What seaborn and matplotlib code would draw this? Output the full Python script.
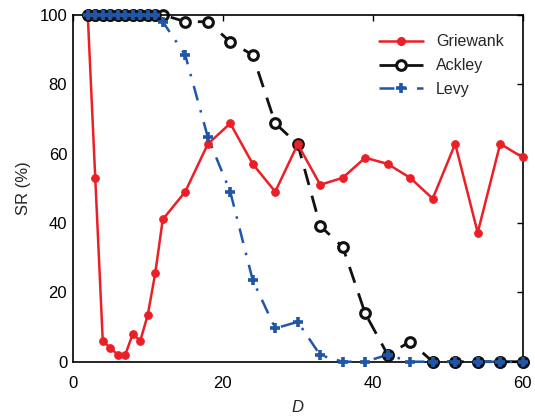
import numpy as np
import pandas as pd
import matplotlib
matplotlib.use("Agg")
import matplotlib.pyplot as plt
import seaborn as sns
from matplotlib.lines import Line2D

# ---- data ----
D = [2, 3, 4, 5, 6, 7, 8, 9, 10, 11, 12,
     15, 18, 21, 24, 27, 30, 33, 36, 39, 42, 45, 48, 51, 54, 57, 60]
griewank = [100, 53, 6, 4, 2, 2, 8, 6, 13.5, 25.5, 41,
            49, 62.7, 68.7, 57, 49, 62.7, 51, 53, 58.8, 57, 53, 47, 62.8, 37.2, 62.8, 58.9]
ackley = [100, 100, 100, 100, 100, 100, 100, 100, 100, 100, 100,
          98, 98, 92.2, 88.4, 68.7, 62.7, 39.1, 33.1, 13.9, 2, 5.8, 0, 0, 0, 0, 0]
levy = [100, 100, 100, 100, 100, 100, 100, 100, 100, 100, 98,
        88.4, 64.8, 49, 23.5, 9.6, 11.5, 1.9, 0, 0, 2, 0, 0, 0, 0, 0, 0]
series_names = ["Griewank", "Ackley", "Levy"]
x_ticks = [0, 20, 40, 60]
y_ticks = [0, 20, 40, 60, 80, 100]

RED = "#EC1F26"
BLUE = "#1F56A8"
BLACK = "#111111"

sns.set_theme(style="white")
plt.rcParams["font.family"] = ["Liberation Sans", "DejaVu Sans"]
plt.rcParams["xtick.direction"] = "in"
plt.rcParams["ytick.direction"] = "in"

df = pd.DataFrame({"D": D, "Griewank": griewank, "Ackley": ackley, "Levy": levy})

fig = plt.figure(figsize=(5.35, 4.16), dpi=100)
ax = fig.add_axes([0.136, 0.1305, 0.841, 0.834])

# Ackley
sns.lineplot(data=df, x="D", y="Ackley", ax=ax, color=BLACK, lw=2.0,
             linestyle=(0, (6, 4)), marker="o", markersize=7,
             markerfacecolor="white", markeredgecolor=BLACK, markeredgewidth=2.2,
             zorder=2, clip_on=False)
# Levy line
sns.lineplot(data=df, x="D", y="Levy", ax=ax, color=BLUE, lw=1.8,
             linestyle=(0, (6, 4, 1, 4)), marker=None, zorder=3, clip_on=False)
# Griewank
sns.lineplot(data=df, x="D", y="Griewank", ax=ax, color=RED, lw=1.8,
             marker="o", markersize=5.5, markerfacecolor=RED,
             markeredgecolor=RED, zorder=4, clip_on=False)
# overlapping points (Ackley == Levy) drawn as blue-filled circles
ov = df[np.isclose(df["Ackley"], df["Levy"])]
ax.plot(ov["D"], ov["Ackley"], linestyle="none", marker="o", markersize=7,
        markerfacecolor=BLUE, markeredgecolor=BLACK, markeredgewidth=2.0,
        zorder=5, clip_on=False)
# Levy markers
ax.plot(df["D"], df["Levy"], linestyle="none", marker="+", markersize=7,
        markeredgewidth=2.6, color=BLUE, zorder=6, clip_on=False)

ax.set_xlim(0, 60)
ax.set_ylim(0, 100)
ax.set_xticks(x_ticks)
ax.set_yticks(y_ticks)
ax.tick_params(axis="both", which="both", direction="in", length=4, width=1,
               labelsize=12, colors="black", top=True, right=True, pad=4)
ax.tick_params(axis="x", pad=10)
for s in ax.spines.values():
    s.set_visible(True)
    s.set_color("black")
    s.set_linewidth(1.2)
ax.set_xlabel("D", fontsize=12, fontstyle="italic", labelpad=7)
ax.set_ylabel("SR (%)", fontsize=12, labelpad=6)
ax.grid(False)

handles = [
    Line2D([], [], color=RED, lw=1.8, marker="o", markersize=5.5,
           markerfacecolor=RED, markeredgecolor=RED),
    Line2D([], [], color=BLACK, lw=2.0, linestyle=(0, (6, 4)), marker="o",
           markersize=7, markerfacecolor="white", markeredgecolor=BLACK,
           markeredgewidth=2.2),
    Line2D([], [], color=BLUE, lw=1.8, linestyle=(0, (6, 4, 1, 4)), marker="+",
           markersize=7, markeredgewidth=2.6),
]
leg = ax.legend(handles, series_names, loc="upper right", frameon=False,
                fontsize=11.5, handlelength=2.8, handletextpad=0.8,
                labelspacing=0.55, bbox_to_anchor=(0.99, 0.985))

fig.savefig("out.png", dpi=100)
